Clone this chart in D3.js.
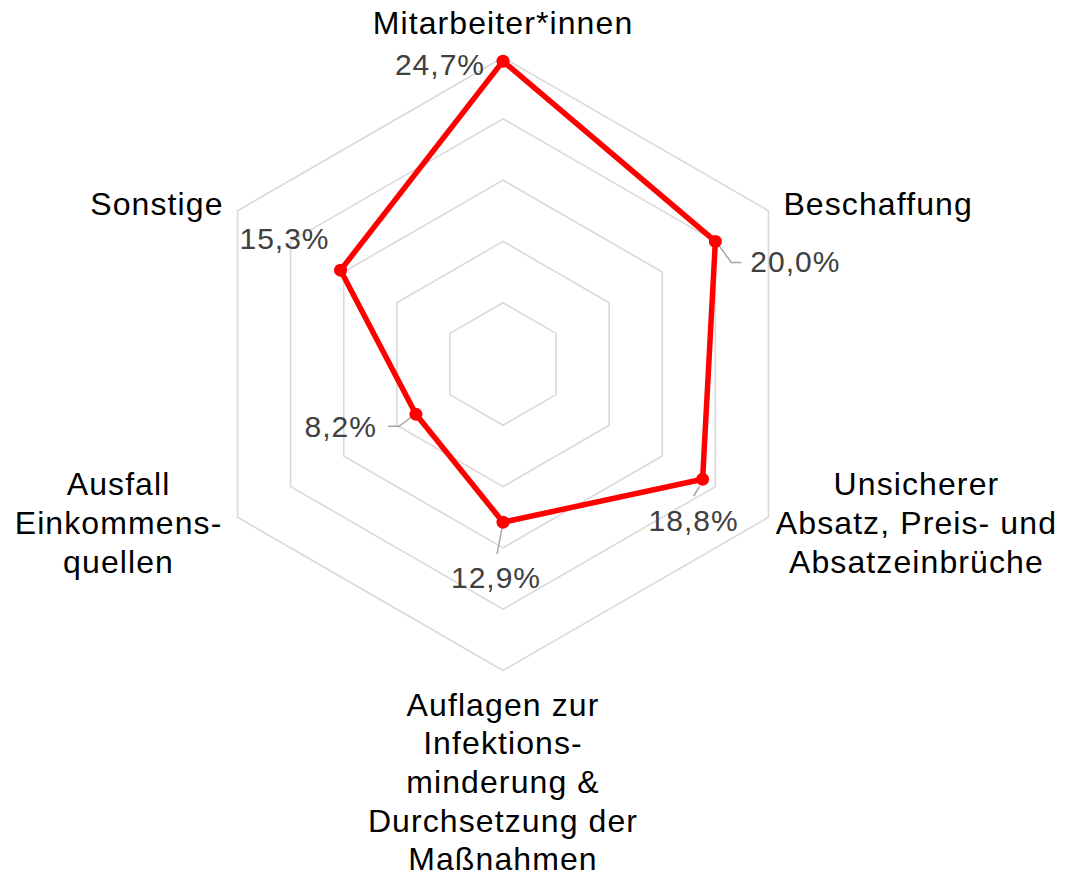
<!DOCTYPE html>
<html>
<head>
<meta charset="utf-8">
<script src="https://cdn.jsdelivr.net/npm/d3@7"></script>
<style>
  body { margin: 0; background: #fff; }
  svg { display: block; font-family: "Liberation Sans", Arial, sans-serif; }
</style>
</head>
<body>
<svg id="radar" width="1068" height="879"></svg>
<script>
// categories (clockwise from top), split into display lines
var categories = [
    "Mitarbeiter*innen",
    "Beschaffung",
    "Unsicherer Absatz, Preis- und Absatzeinbrüche",
    "Auflagen zur Infektionsminderung & Durchsetzung der Maßnahmen",
    "Ausfall Einkommensquellen",
    "Sonstige"
];
var categoryLines = [
    ["Mitarbeiter*innen"],
    ["Beschaffung"],
    ["Unsicherer", "Absatz, Preis- und", "Absatzeinbrüche"],
    ["Auflagen zur", "Infektions-", "minderung &", "Durchsetzung der", "Maßnahmen"],
    ["Ausfall", "Einkommens-", "quellen"],
    ["Sonstige"]
];
var values = [24.7, 20.0, 18.8, 12.9, 8.2, 15.3];
var valueLabels = ["24,7%", "20,0%", "18,8%", "12,9%", "8,2%", "15,3%"];
var ticks = [5, 10, 15, 20, 25];

function draw_radar()
{
    var svg = d3.select("svg#radar");
    var cx = 503, cy = 364;

    var r = d3.scaleLinear().domain([0, 25]).range([0, 306.5]);
    var angle = d3.scaleLinear().domain([0, categories.length]).range([0, 2 * Math.PI]);

    function pt(i, v) {
        var a = angle(i);
        return [cx + r(v) * Math.sin(a), cy - r(v) * Math.cos(a)];
    }

    // grid hexagons
    var grid = svg.append("g");
    grid.selectAll("path")
        .data(ticks)
        .enter()
        .append("path")
        .attr("d", function (t) {
            return d3.line()(categories.map(function (c, i) { return pt(i, t); })) + "Z";
        })
        .attr("fill", "none")
        .attr("stroke", "#d9d9d9")
        .attr("stroke-width", 1.6);

    // series line
    svg.append("path")
        .attr("d", d3.line()(values.map(function (v, i) { return pt(i, v); })) + "Z")
        .attr("fill", "none")
        .attr("stroke", "#ff0000")
        .attr("stroke-width", 5.5)
        .attr("stroke-linejoin", "round");

    // data label placement: text offset from the point, and leader lines
    var lab = [
        {dx: -18, dy: 14, anchor: "end", lead: null},
        {dx: 35, dy: 31, anchor: "start", lead: [[2, 2], [16, 21], [26, 21]]},
        {dx: -9, dy: 52, anchor: "middle", lead: [[-3, 7], [-9, 17]]},
        {dx: -7, dy: 66, anchor: "middle", lead: [[-1, 6], [-6, 32]]},
        {dx: -39, dy: 23, anchor: "end", lead: [[-2, 1], [-17, 12], [-28, 12]]},
        {dx: -11, dy: -21, anchor: "end", lead: null}
    ];

    var leaders = svg.append("g");
    values.forEach(function (v, i) {
        if (!lab[i].lead) return;
        var p = pt(i, v);
        leaders.append("path")
            .attr("d", d3.line()(lab[i].lead.map(function (o) { return [p[0] + o[0], p[1] + o[1]]; })))
            .attr("fill", "none")
            .attr("stroke", "#a6a6a6")
            .attr("stroke-width", 1.5);
    });

    // markers
    svg.append("g")
        .selectAll("circle")
        .data(values)
        .enter()
        .append("circle")
        .attr("cx", function (d, i) { return pt(i, d)[0]; })
        .attr("cy", function (d, i) { return pt(i, d)[1]; })
        .attr("r", 6.5)
        .attr("fill", "#ff0000");

    // data labels
    svg.append("g")
        .selectAll("text")
        .data(values)
        .enter()
        .append("text")
        .attr("x", function (d, i) { return pt(i, d)[0] + lab[i].dx; })
        .attr("y", function (d, i) { return pt(i, d)[1] + lab[i].dy; })
        .attr("text-anchor", function (d, i) { return lab[i].anchor; })
        .attr("font-size", "30px")
        .attr("letter-spacing", "1px")
        .attr("fill", "#404040")
        .text(function (d, i) { return valueLabels[i]; });

    // category labels, offset from the outer ring vertex
    var catPos = [
        {dx: 0, dy: -24, anchor: "middle"},
        {dx: 15, dy: 4, anchor: "start"},
        {dx: 148, dy: -22, anchor: "middle"},
        {dx: 0, dy: 45, anchor: "middle"},
        {dx: -119, dy: -22, anchor: "middle"},
        {dx: -14, dy: 4, anchor: "end"}
    ];
    var lineH = 38.7;
    var cats = svg.append("g");
    categoryLines.forEach(function (lines, i) {
        var p = pt(i, 25);
        var t = cats.append("text")
            .attr("x", p[0] + catPos[i].dx)
            .attr("y", p[1] + catPos[i].dy)
            .attr("text-anchor", catPos[i].anchor)
            .attr("font-size", "32px")
            .attr("letter-spacing", "1.1px")
            .attr("fill", "#000");
        lines.forEach(function (s, k) {
            t.append("tspan")
                .attr("x", p[0] + catPos[i].dx)
                .attr("dy", k === 0 ? 0 : lineH)
                .text(s);
        });
    });
}

draw_radar();
</script>
</body>
</html>
